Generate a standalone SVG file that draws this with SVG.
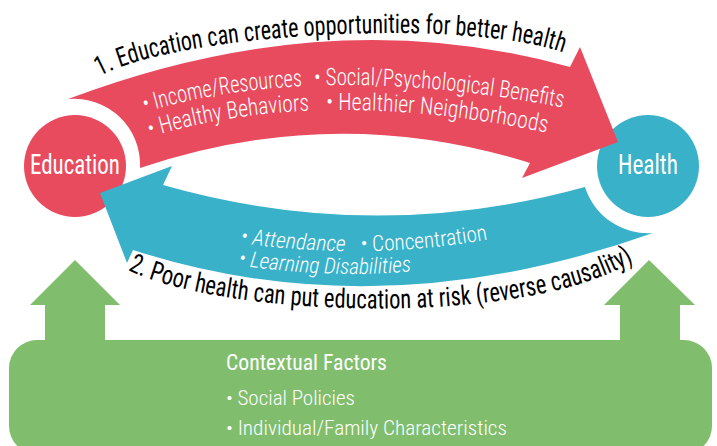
<svg xmlns="http://www.w3.org/2000/svg" width="717" height="446" viewBox="0 0 717 446">
<style>
.red{fill:#e84a5e}
.teal{fill:#39b1c8}
.green{fill:#80be6e}
.lbl{font-family:"Roboto Condensed","Roboto","Liberation Sans",sans-serif;font-size:27px;fill:#000}
.wt{font-family:"Roboto Condensed","Roboto","Liberation Sans",sans-serif;font-weight:300;fill:#fff}
.wn{font-family:"Roboto Condensed","Roboto","Liberation Sans",sans-serif;font-weight:400;fill:#fff}
</style>
<defs>
<path id="p1" d="M100,76 C180,32 480,16 572,56 L640,86"/>
<path id="p2" d="M128,270 C220,316 520,330 636,260 L700,222"/>
<path id="r1" d="M145,112 Q320,60 565,108 L620,118"/>
<path id="r2" d="M150,137 Q320,85 548,133 L600,145"/>
<path id="t1" d="M240,243 Q370,261 490,239 L540,226"/>
<path id="t2" d="M238,265 Q330,279 415,271 L460,264"/>
</defs>
<g id="education">
<circle class="red" cx="75" cy="166" r="51"/>
<text class="wn" x="75" y="174" text-anchor="middle" font-size="27" textLength="90" lengthAdjust="spacingAndGlyphs">Education</text>
</g>
<g id="health">
<circle class="teal" cx="648" cy="166" r="51"/>
<text class="wn" x="648" y="174" text-anchor="middle" font-size="27" textLength="60" lengthAdjust="spacingAndGlyphs">Health</text>
</g>
<g id="connectors">
<g id="arrow1">
<path class="red" d="M68,99 Q330,0 570,67 L580,47 L618,142 L522,178 L530,163 Q335,102 140,168 A66,66 0 0 0 68,99 Z"/>
<text class="lbl"><textPath href="#p1" textLength="470" lengthAdjust="spacingAndGlyphs">1. Education can create opportunities for better health</textPath></text>
<text class="wt" font-size="24"><textPath href="#r1" textLength="160" lengthAdjust="spacingAndGlyphs">• Income/Resources</textPath></text>
<text class="wt" font-size="24"><textPath href="#r1" startOffset="172" textLength="250" lengthAdjust="spacingAndGlyphs">• Social/Psychological Benefits</textPath></text>
<text class="wt" font-size="24"><textPath href="#r2" textLength="162" lengthAdjust="spacingAndGlyphs">• Healthy Behaviors</textPath></text>
<text class="wt" font-size="24"><textPath href="#r2" startOffset="179" textLength="222" lengthAdjust="spacingAndGlyphs">• Healthier Neighborhoods</textPath></text>
</g>
<g id="arrow2">
<path class="teal" d="M163,185 Q374,245 585,187 A66,66 0 0 0 653,233 Q380,330 133,250 L127,263 L100,193 L172,166 Z"/>
<text class="lbl"><textPath href="#p2" textLength="517" lengthAdjust="spacingAndGlyphs">2. Poor health can put education at risk (reverse causality)</textPath></text>
<text class="wt" font-size="22" font-style="italic"><textPath href="#t1" textLength="106" lengthAdjust="spacingAndGlyphs">• Attendance</textPath></text>
<text class="wt" font-size="22"><textPath href="#t1" startOffset="121" textLength="128" lengthAdjust="spacingAndGlyphs">• Concentration</textPath></text>
<text class="wt" font-size="22" font-style="italic"><textPath href="#t2" textLength="174" lengthAdjust="spacingAndGlyphs">• Learning Disabilities</textPath></text>
</g>
<polygon id="arrow3" class="green" points="75,260 120,305 105,305 105,345 45,345 45,305 30,305"/>
<polygon id="arrow4" class="green" points="649,260 695,305 680,305 680,345 620,345 620,305 604,305"/>
</g>
<g id="context">
<rect class="green" x="9" y="340" width="703" height="114" rx="28"/>
<text class="wn" x="226" y="370" font-size="22" textLength="161" lengthAdjust="spacingAndGlyphs">Contextual Factors</text>
<text class="wt" x="226" y="405" font-size="21" textLength="129" lengthAdjust="spacingAndGlyphs">• Social Policies</text>
<text class="wt" x="226" y="435" font-size="21" textLength="281" lengthAdjust="spacingAndGlyphs">• Individual/Family Characteristics</text>
</g>
</svg>
